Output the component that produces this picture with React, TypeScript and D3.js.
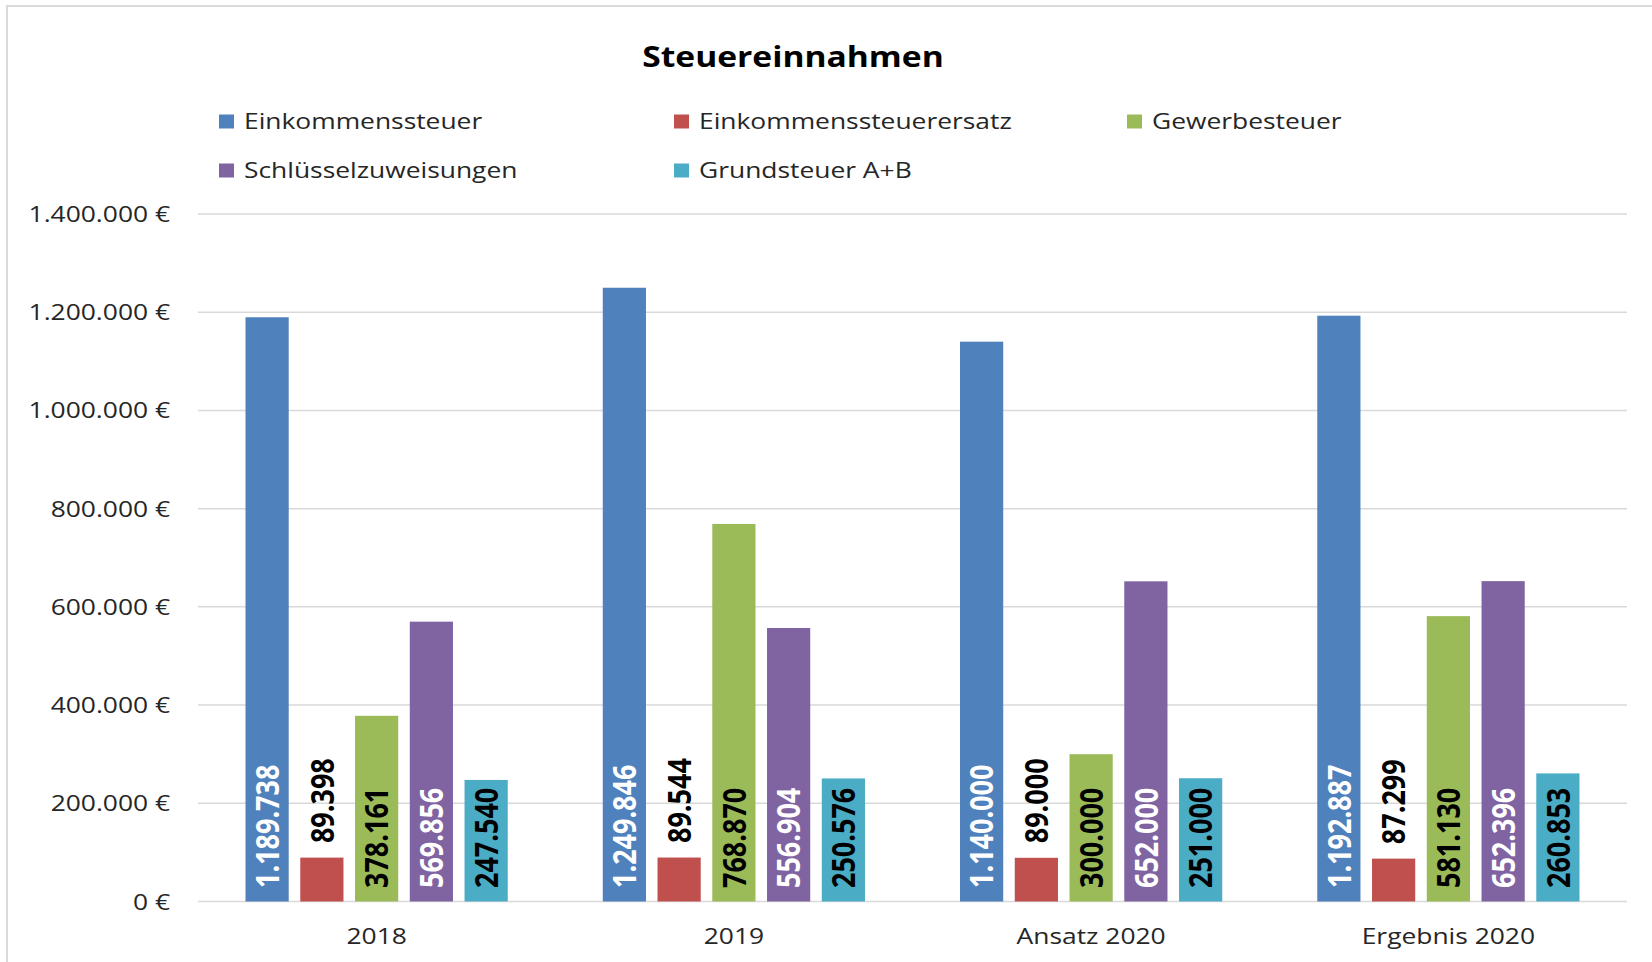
import React, { useEffect, useRef } from 'react';
import * as d3 from 'd3';

const categories = ['2018', '2019', 'Ansatz 2020', 'Ergebnis 2020'];
const seriesNames = ['Einkommenssteuer', 'Einkommenssteuerersatz', 'Gewerbesteuer', 'Schlüsselzuweisungen', 'Grundsteuer A+B'];
const einkommenssteuer = [1189738, 1249846, 1140000, 1192887];
const einkommenssteuerersatz = [89398, 89544, 89000, 87299];
const gewerbesteuer = [378161, 768870, 300000, 581130];
const schluesselzuweisungen = [569856, 556904, 652000, 652396];
const grundsteuer = [247540, 250576, 251000, 260853];
const yTicks = [0, 200000, 400000, 600000, 800000, 1000000, 1200000, 1400000];

const FONT = '"Open Sans", sans-serif';
const SX = 1.2; // the reference is stretched a bit horizontally

const App = () => {
  const svgRef = useRef<SVGSVGElement>(null);

  useEffect(() => {
    const width = 1652;
    const height = 962;
    const plot = { left: 198, right: 1627, top: 214, bottom: 901.5 };

    const svg = d3.select(svgRef.current)
      .attr('width', width)
      .attr('height', height);
    svg.selectAll('*').remove();

    const seriesValues = [einkommenssteuer, einkommenssteuerersatz, gewerbesteuer, schluesselzuweisungen, grundsteuer];
    const rows = seriesNames.flatMap((name, si) =>
      categories.map((cat, ci) => ({ series: name, si, category: cat, value: seriesValues[si][ci] })));

    const color = d3.scaleOrdinal<string, string>()
      .domain(seriesNames)
      .range(['#4f81bd', '#c0504d', '#9bbb59', '#8064a2', '#4bacc6']);
    const labelColor = d3.scaleOrdinal<string, string>()
      .domain(seriesNames)
      .range(['#ffffff', '#000000', '#000000', '#ffffff', '#000000']);

    const x0 = d3.scaleBand()
      .domain(categories)
      .range([plot.left, plot.right])
      .paddingInner(0.266)
      .paddingOuter(0.133);
    const x1 = d3.scaleBand()
      .domain(seriesNames)
      .range([0, x0.bandwidth()])
      .paddingInner(0.211)
      .paddingOuter(0);
    const y = d3.scaleLinear()
      .domain([0, 1400000])
      .range([plot.bottom, plot.top]);

    const de = d3.formatLocale({ decimal: ',', thousands: '.', grouping: [3], currency: ['', ' €'] });
    const fmt = de.format(',.0f');

    // frame
    svg.append('rect')
      .attr('x', 7).attr('y', 6)
      .attr('width', width).attr('height', height)
      .attr('fill', '#fff')
      .attr('stroke', '#d9d9d9')
      .attr('stroke-width', 2);

    // title
    svg.append('text')
      .attr('transform', `translate(793,67) scale(${SX},1)`)
      .attr('text-anchor', 'middle')
      .style('font-family', FONT)
      .style('font-weight', 'bold')
      .style('font-size', '28px')
      .style('fill', '#000')
      .text('Steuereinnahmen');

    // legend
    const colX = [219, 674, 1127];
    const legend = svg.append('g').selectAll('g')
      .data(seriesNames)
      .enter().append('g')
      .attr('transform', (d, i) => `translate(${colX[i % 3]},${114.5 + Math.floor(i / 3) * 49})`);
    legend.append('rect')
      .attr('width', 15).attr('height', 14)
      .attr('fill', d => color(d));
    legend.append('text')
      .attr('transform', `translate(25,14.5) scale(${SX},1)`)
      .style('font-family', FONT)
      .style('font-size', '22px')
      .style('fill', '#262626')
      .text(d => d);

    // grid + y labels
    svg.append('g').selectAll('line')
      .data(yTicks)
      .enter().append('line')
      .attr('x1', plot.left).attr('x2', plot.right)
      .attr('y1', d => y(d)).attr('y2', d => y(d))
      .attr('stroke', '#d9d9d9')
      .attr('stroke-width', 1.5);
    svg.append('g').selectAll('text')
      .data(yTicks)
      .enter().append('text')
      .attr('transform', d => `translate(170,${y(d) + 8}) scale(${SX},1)`)
      .attr('text-anchor', 'end')
      .style('font-family', FONT)
      .style('font-size', '22px')
      .style('fill', '#262626')
      .text(d => `${fmt(d)} €`);

    // x labels
    svg.append('g').selectAll('text')
      .data(categories)
      .enter().append('text')
      .attr('transform', d => `translate(${x0(d)! + x0.bandwidth() / 2},944) scale(${SX},1)`)
      .attr('text-anchor', 'middle')
      .style('font-family', FONT)
      .style('font-size', '22px')
      .style('fill', '#262626')
      .text(d => d);

    // bars
    const bars = svg.append('g').selectAll('g')
      .data(rows)
      .enter().append('g');
    bars.append('rect')
      .attr('x', d => x0(d.category)! + x1(d.series)!)
      .attr('y', d => y(d.value))
      .attr('width', x1.bandwidth())
      .attr('height', d => y(0) - y(d.value))
      .attr('fill', d => color(d.series));

    // labels: red series sits above the bar, the others inside at the base
    bars.append('text')
      .attr('transform', d => {
        const cx = x0(d.category)! + x1(d.series)! + x1.bandwidth() / 2;
        const cy = d.si === 1 ? y(d.value) - 14.5 : y(0) - 13.5;
        return `translate(${cx},${cy}) rotate(-90) scale(1,${SX})`;
      })
      .attr('dy', '0.36em')
      .style('font-family', FONT)
      .style('font-weight', 'bold')
      .style('font-size', '27px')
      .style('fill', d => labelColor(d.series))
      .text(d => fmt(d.value));
  }, []);

  return <svg ref={svgRef} style={{ position: 'absolute', left: 0, top: 0, display: 'block' }}></svg>;
};

export default App;
